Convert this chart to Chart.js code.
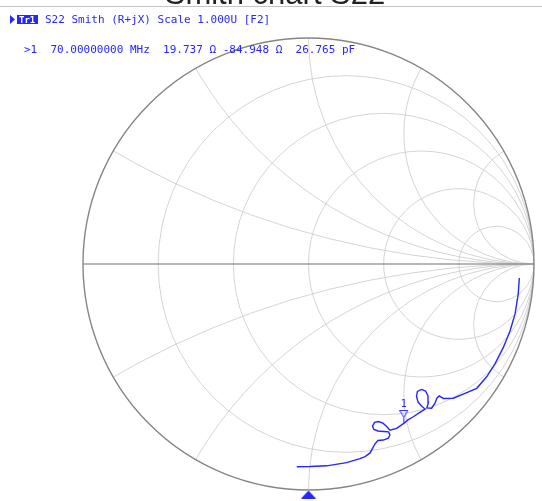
<!DOCTYPE html>
<html>
<head>
<meta charset="utf-8">
<script src="https://cdn.jsdelivr.net/npm/chart.js@4/dist/chart.umd.min.js"></script>
<style>
  html, body { margin: 0; padding: 0; background: #fff; }
  #wrap { position: relative; width: 542px; height: 501px; }
</style>
</head>
<body>
<div id="wrap"><canvas id="smith" width="542" height="501"></canvas></div>
<script>
const chartTitle = 'Smith chart S22';
const traceHeader = 'S22 Smith (R+jX) Scale 1.000U [F2]';
const markerReadout = '>1  70.00000000 MHz  19.737 \u03A9 -84.948 \u03A9  26.765 pF';

// grid: constant resistance circles and constant reactance arcs (normalized)
const resistanceCircles = [0.2, 0.5, 1, 2, 5];
const reactanceArcs = [0.268, 0.577, 1, 1.732, 3.732];

// S22 trace, reflection coefficient
const gammaRe = [0.935, 0.930, 0.916, 0.894, 0.864, 0.827, 0.790, 0.746, 0.694, 0.642,
  0.598, 0.580, 0.569, 0.561, 0.546, 0.525, 0.532, 0.530, 0.519, 0.501,
  0.483, 0.479, 0.486, 0.501, 0.517, 0.499, 0.465, 0.441, 0.424, 0.391,
  0.361, 0.347, 0.330, 0.310, 0.293, 0.284, 0.290, 0.308, 0.333, 0.355,
  0.361, 0.354, 0.332, 0.308, 0.295, 0.287, 0.273, 0.251, 0.228, 0.169,
  0.081, 0.007, -0.052];
const gammaIm = [-0.062, -0.133, -0.221, -0.295, -0.369, -0.442, -0.499, -0.550, -0.572, -0.594,
  -0.595, -0.584, -0.594, -0.616, -0.638, -0.637, -0.611, -0.584, -0.562, -0.555,
  -0.564, -0.586, -0.611, -0.628, -0.642, -0.653, -0.676, -0.690, -0.704, -0.727,
  -0.735, -0.719, -0.704, -0.697, -0.701, -0.717, -0.732, -0.739, -0.741, -0.743,
  -0.757, -0.771, -0.779, -0.781, -0.796, -0.810, -0.836, -0.852, -0.861, -0.879,
  -0.893, -0.896, -0.897];

// marker 1 at 70 MHz
const z0 = 50;
const markerR = 19.737;
const markerX = -84.948;
// reference position arrow under the chart
const refArrow = [0, -1.02];

const BLUE = '#2626ff';

function toGamma(r, x) {
  const a = r / z0 - 1, b = x / z0, c = r / z0 + 1, d = x / z0;
  const den = c * c + d * d;
  return { x: (a * c + b * d) / den, y: (b * c - a * d) / den };
}

function markerGlyph() {
  const c = document.createElement('canvas');
  c.width = 9; c.height = 26;
  const g = c.getContext('2d');
  g.strokeStyle = BLUE; g.lineWidth = 1;
  g.beginPath();
  g.moveTo(0.5, 0.5); g.lineTo(8.5, 0.5); g.lineTo(4.5, 7.5); g.closePath();
  g.stroke();
  g.beginPath(); g.moveTo(4.5, 7.5); g.lineTo(4.5, 13); g.stroke();
  return c;
}

function arrowGlyph() {
  const c = document.createElement('canvas');
  c.width = 15; c.height = 8;
  const g = c.getContext('2d');
  g.fillStyle = BLUE;
  g.beginPath(); g.moveTo(7.5, 0); g.lineTo(15, 8); g.lineTo(0, 8); g.closePath(); g.fill();
  return c;
}

const smithGrid = {
  id: 'smithGrid',
  beforeDatasetsDraw(chart) {
    const { ctx, scales: { x, y } } = chart;
    const px = v => x.getPixelForValue(v), py = v => y.getPixelForValue(v);
    const sx = px(1) - px(0), sy = py(0) - py(1);
    const TAU = Math.PI * 2;
    ctx.save();
    ctx.beginPath();
    ctx.ellipse(px(0), py(0), sx, sy, 0, 0, TAU);
    ctx.clip();
    ctx.strokeStyle = '#d4d4d4';
    ctx.lineWidth = 1;
    resistanceCircles.forEach(r => {
      const c = r / (1 + r), rad = 1 / (1 + r);
      ctx.beginPath();
      ctx.ellipse(px(c), py(0), rad * sx, rad * sy, 0, 0, TAU);
      ctx.stroke();
    });
    reactanceArcs.forEach(xv => {
      [1, -1].forEach(s => {
        ctx.beginPath();
        ctx.ellipse(px(1), py(s / xv), sx / xv, sy / xv, 0, 0, TAU);
        ctx.stroke();
      });
    });
    ctx.restore();

    ctx.save();
    ctx.strokeStyle = '#707070';
    ctx.lineWidth = 1.2;
    ctx.beginPath();
    ctx.moveTo(px(-1), py(0)); ctx.lineTo(px(1), py(0));
    ctx.stroke();
    ctx.strokeStyle = '#858585';
    ctx.lineWidth = 1.4;
    ctx.beginPath();
    ctx.ellipse(px(0), py(0), sx, sy, 0, 0, TAU);
    ctx.stroke();
    ctx.restore();
  },
  afterDraw(chart) {
    const ctx = chart.ctx;
    ctx.save();
    // page title, mostly above the frame
    ctx.fillStyle = '#222';
    ctx.font = '31px "Liberation Sans", Arial, sans-serif';
    ctx.textAlign = 'center';
    ctx.textBaseline = 'alphabetic';
    ctx.fillText(chartTitle, 275, 4);
    ctx.strokeStyle = '#c4c4c4';
    ctx.lineWidth = 1;
    ctx.beginPath(); ctx.moveTo(0, 6.5); ctx.lineTo(542, 6.5); ctx.stroke();

    // trace header
    ctx.fillStyle = BLUE;
    ctx.beginPath(); ctx.moveTo(10, 15); ctx.lineTo(15, 19.5); ctx.lineTo(10, 24); ctx.closePath(); ctx.fill();
    ctx.fillRect(17, 15, 21, 9);
    ctx.textAlign = 'left';
    ctx.font = 'bold 9px "DejaVu Sans Mono", monospace';
    ctx.fillStyle = '#fff';
    ctx.fillText('Tr1', 19, 23);
    ctx.fillStyle = BLUE;
    ctx.font = '11px "DejaVu Sans Mono", monospace';
    ctx.fillText(traceHeader, 45, 23);
    ctx.fillText(markerReadout, 24, 53);

    // marker number above its glyph
    const meta = chart.getDatasetMeta(1);
    const p = meta.data[0];
    ctx.font = '10px "DejaVu Sans Mono", monospace';
    ctx.textAlign = 'center';
    ctx.fillText('1', p.x, p.y - 16);
    ctx.restore();
  }
};

const trace = gammaRe.map((re, i) => ({ x: re, y: gammaIm[i] }));
const marker1 = toGamma(markerR, markerX);

new Chart(document.getElementById('smith'), {
  type: 'scatter',
  data: {
    datasets: [
      {
        label: 'S22',
        data: trace,
        showLine: true,
        borderColor: BLUE,
        borderWidth: 1.4,
        pointRadius: 0,
        tension: 0
      },
      {
        label: 'Marker 1',
        data: [marker1],
        pointStyle: markerGlyph(),
        pointRadius: 5,
        clip: false
      },
      {
        label: 'Reference',
        data: [{ x: refArrow[0], y: refArrow[1] }],
        pointStyle: arrowGlyph(),
        pointRadius: 5,
        clip: false
      }
    ]
  },
  options: {
    responsive: false,
    animation: false,
    devicePixelRatio: 1,
    layout: { padding: { left: 83, right: 8, top: 38, bottom: 11 } },
    plugins: {
      legend: { display: false },
      tooltip: { enabled: false },
      title: { display: false }
    },
    scales: {
      x: { type: 'linear', min: -1, max: 1, display: false },
      y: { type: 'linear', min: -1, max: 1, display: false }
    }
  },
  plugins: [smithGrid]
});
</script>
</body>
</html>
